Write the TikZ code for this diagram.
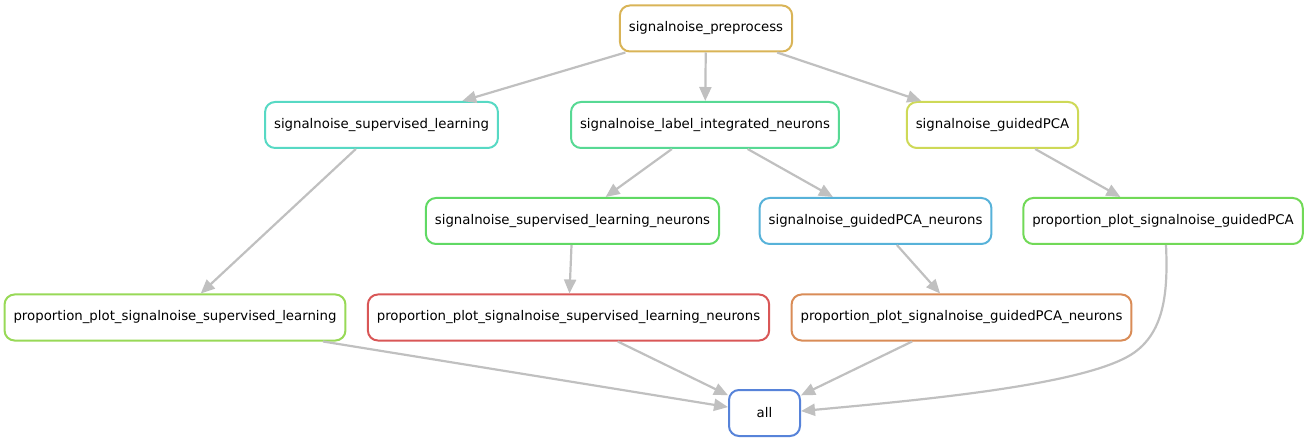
\documentclass[tikz,border=0pt]{standalone}
\usepackage{fontspec}
\setmainfont{DejaVu Sans}
\usetikzlibrary{arrows.meta}
\definecolor{cpre}{RGB}{217,180,87}
\definecolor{csl}{RGB}{87,217,196}
\definecolor{clin}{RGB}{87,217,148}
\definecolor{cgp}{RGB}{206,217,87}
\definecolor{csln}{RGB}{96,217,100}
\definecolor{cgpn}{RGB}{87,178,217}
\definecolor{cppgp}{RGB}{113,217,87}
\definecolor{cppsl}{RGB}{152,217,87}
\definecolor{cppsln}{RGB}{217,87,87}
\definecolor{cppgpn}{RGB}{217,140,87}
\definecolor{call}{RGB}{87,131,217}
\definecolor{edgegray}{RGB}{192,192,192}
\begin{document}
\begin{tikzpicture}[x=1pt,y=-1pt,
  rulebox/.style={draw=#1,line width=2pt,rounded corners=10pt,minimum height=46pt,
    inner xsep=9pt,font=\fontsize{13.3}{16}\selectfont,fill=white},
  dep/.style={draw=edgegray,line width=2.2pt,-{Triangle[length=14pt,width=12pt]}}]
\useasboundingbox (0,0) rectangle (1308,443);
\node[rulebox=cpre] (pre) at (706,28.5) {signalnoise\_preprocess};
\node[rulebox=csl] (sl) at (381.5,125) {signalnoise\_supervised\_learning};
\node[rulebox=clin] (lin) at (705,125) {signalnoise\_label\_integrated\_neurons};
\node[rulebox=cgp] (gp) at (992.5,125) {signalnoise\_guidedPCA};
\node[rulebox=csln] (sln) at (572.5,221) {signalnoise\_supervised\_learning\_neurons};
\node[rulebox=cgpn] (gpn) at (875.5,221) {signalnoise\_guidedPCA\_neurons};
\node[rulebox=cppgp] (ppgp) at (1163,221) {proportion\_plot\_signalnoise\_guidedPCA};
\node[rulebox=cppsl] (ppsl) at (175,317.5) {proportion\_plot\_signalnoise\_supervised\_learning};
\node[rulebox=cppsln] (ppsln) at (568.5,317.5) {proportion\_plot\_signalnoise\_supervised\_learning\_neurons};
\node[rulebox=cppgpn] (ppgpn) at (961.5,317.5) {proportion\_plot\_signalnoise\_guidedPCA\_neurons};
\node[rulebox=call,minimum width=71pt] (all) at (764.5,413) {all};
\draw[dep] (pre) -- (sl);
\draw[dep] (pre) -- (lin);
\draw[dep] (pre) -- (gp);
\draw[dep] (sl) -- (ppsl);
\draw[dep] (lin) -- (sln);
\draw[dep] (lin) -- (gpn);
\draw[dep] (gp) -- (ppgp);
\draw[dep] (sln) -- (ppsln);
\draw[dep] (gpn) -- (ppgpn);
\draw[dep] (ppsl) -- (all);
\draw[dep] (ppsln) -- (all);
\draw[dep] (ppgpn) -- (all);
\draw[dep] ([xshift=3pt]ppgp.south) .. controls +(2,45) and (1165,330) .. (1135,352)
  .. controls (1090,385) and (920,400) .. (all.3);
\end{tikzpicture}
\end{document}
